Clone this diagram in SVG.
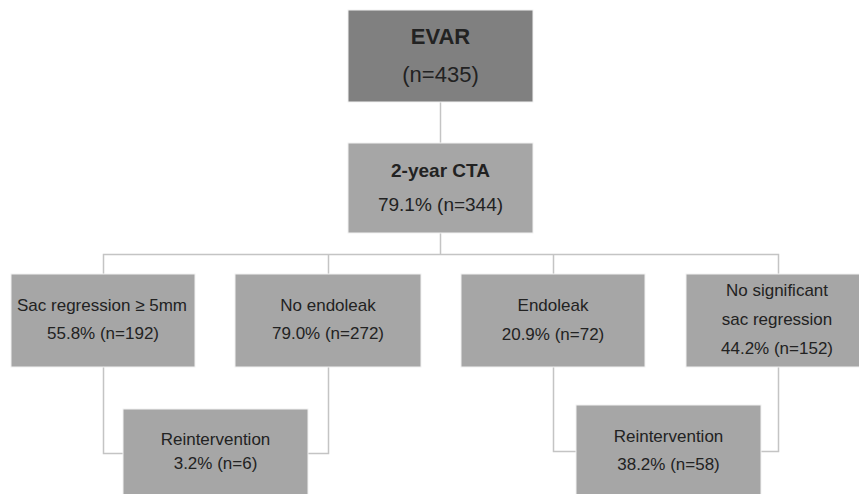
<svg xmlns="http://www.w3.org/2000/svg" width="859" height="494" viewBox="0 0 859 494">
<style>
.box{fill:#a6a6a6;stroke:#f2f2f2;stroke-width:1}
.dark{fill:#808080}
.t{font-family:"Liberation Sans",Arial,sans-serif;font-size:17px;fill:#222222;text-anchor:middle}
.b{font-weight:bold}
.conn{fill:none;stroke:#c4c4c4;stroke-width:1.5}
</style>
<rect width="859" height="494" fill="#ffffff"/>
<g id="connectors">
<path class="conn" d="M440.5,102 V143"/>
<path class="conn" d="M440.5,233 V254.5 M103.5,274 V254.5 H778.5 V274 M328.5,254.5 V274 M553.5,254.5 V274"/>
<path class="conn" d="M103.5,367 V453.5 H123 M328.5,367 V453.5 H308"/>
<path class="conn" d="M553.5,367 V451.5 H576 M778.5,367 V451.5 H761"/>
</g>
<g id="evar">
<rect class="box dark" x="348" y="10" width="185" height="92"/>
<text class="t b" x="440.5" y="44" style="font-size:22px">EVAR</text>
<text class="t" x="440.5" y="82" style="font-size:22px">(n=435)</text>
</g>
<g id="cta">
<rect class="box" x="348" y="143" width="185" height="90"/>
<text class="t b" x="440.5" y="177" style="font-size:19px">2-year CTA</text>
<text class="t" x="440.5" y="211" style="font-size:19px">79.1% (n=344)</text>
</g>
<g id="sac">
<rect class="box" x="11" y="274" width="184" height="93"/>
<text class="t" x="102" y="311">Sac regression ≥ 5mm</text>
<text class="t" x="103" y="339">55.8% (n=192)</text>
</g>
<g id="noendoleak">
<rect class="box" x="235" y="274" width="186" height="93"/>
<text class="t" x="328" y="311">No endoleak</text>
<text class="t" x="328" y="339">79.0% (n=272)</text>
</g>
<g id="endoleak">
<rect class="box" x="461" y="274" width="184" height="93"/>
<text class="t" x="553" y="311">Endoleak</text>
<text class="t" x="553" y="340">20.9% (n=72)</text>
</g>
<g id="nosig">
<rect class="box" x="686" y="274" width="185" height="93"/>
<text class="t" x="777" y="296">No significant</text>
<text class="t" x="777" y="325">sac regression</text>
<text class="t" x="777" y="354">44.2% (n=152)</text>
</g>
<g id="reint1">
<rect class="box" x="123" y="409" width="185" height="92"/>
<text class="t" x="215.5" y="445">Reintervention</text>
<text class="t" x="215.5" y="469">3.2% (n=6)</text>
</g>
<g id="reint2">
<rect class="box" x="576" y="405" width="185" height="96"/>
<text class="t" x="668.5" y="442">Reintervention</text>
<text class="t" x="668.5" y="470">38.2% (n=58)</text>
</g>
</svg>
